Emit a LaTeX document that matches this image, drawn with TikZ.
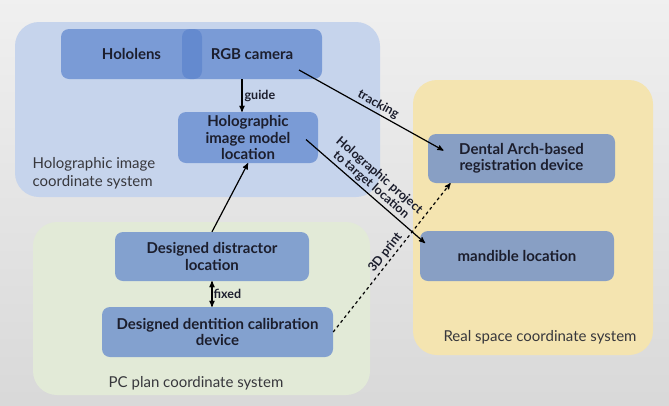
\documentclass[tikz,border=0pt]{standalone}
\usepackage{fontspec}
\setmainfont{Lato}
\usetikzlibrary{arrows, positioning}
\definecolor{holoBack}{HTML}{C6D4EC}
\definecolor{pcBack}{HTML}{E2EAD7}
\definecolor{realBack}{HTML}{F4E4B0}
\definecolor{boxBlue}{RGB}{91,131,205}
\definecolor{ink}{RGB}{28,30,45}
\definecolor{sysInk}{RGB}{55,55,60}

\begin{document}
\begin{tikzpicture}[x=1pt, y=-1pt, >=stealth',
    sysarea/.style={rounded corners=24pt, inner sep=0pt},
    blk/.style={fill=boxBlue, fill opacity=0.7, text opacity=1, text=ink, rounded corners=8pt,
      inner sep=0pt, align=center, font=\fontsize{15}{16.5}\selectfont\bfseries},
    syslabel/.style={text=sysInk, align=left, font=\fontsize{15}{18}\selectfont},
    lnk/.style={->, line width=1.2pt},
    lbl/.style={text=ink, inner sep=2pt, align=center, font=\fontsize{12.5}{12.5}\selectfont\bfseries}]
      \shade[top color=gray!12, bottom color=gray!30] (0, 0) rectangle (669, 405);
      \useasboundingbox (0, 0) rectangle (669, 405);

      % coordinate systems
      \node[sysarea, fill=holoBack, minimum width=365pt, minimum height=175pt] (holoSys) at (197.5, 109.5) {};
      \node[sysarea, fill=pcBack, minimum width=337pt, minimum height=173pt] (pcSys) at (201.5, 308.5) {};
      \node[sysarea, fill=realBack, minimum width=240pt, minimum height=275pt] (realSys) at (533, 217.5) {};
      \node[syslabel, anchor=west] (holoTxt) at (29, 173) {Holographic image\\coordinate system};
      \node[syslabel] (pcTxt) at (196, 383) {PC plan coordinate system};
      \node[syslabel] (realTxt) at (540, 337) {Real space coordinate system};

      % blocks
      \node[blk, minimum width=141pt, minimum height=50pt] (hololens) at (131.5, 54) {Hololens};
      \node[blk, minimum width=140pt, minimum height=50pt] (rgb) at (252, 54) {RGB camera};
      \node[blk, minimum width=140pt, minimum height=51pt] (model) at (248, 137.5) {Holographic\\image model\\location};
      \node[blk, minimum width=194pt, minimum height=49pt] (distractor) at (212, 256.5) {Designed distractor\\location};
      \node[blk, minimum width=231pt, minimum height=50pt] (dentition) at (217.5, 332) {Designed dentition calibration\\device};
      \node[blk, minimum width=187pt, minimum height=49pt] (dental) at (521.5, 158.5) {Dental Arch-based\\registration device};
      \node[blk, minimum width=194pt, minimum height=50pt] (mandible) at (517, 256) {mandible location};

      % links
      \draw[lnk] ([xshift=-10pt]rgb.south) to node[lbl, right] {guide} ([xshift=-6pt]model.north);
      \draw[lnk] ([xshift=47pt, yshift=-16pt]rgb.center) to node[lbl, sloped, above, pos=0.52] {tracking} ([xshift=-78pt, yshift=8pt]dental.center);
      \draw[lnk] ([xshift=58pt, yshift=-2pt]model.center) to node[lbl, sloped, above, pos=0.5] {Holographic project\\to target location} ([xshift=-92pt, yshift=13pt]mandible.center);
      \draw[lnk] (distractor.north) to (model.south);
      \draw[<->, line width=1.2pt] (distractor.south) to node[lbl, right, inner sep=1pt] {fixed} (distractor.south |- dentition.north);
      \draw[lnk, dashed] (dentition.east) to node[lbl, sloped, above, pos=0.5] {3D print} ([xshift=-71pt]dental.south);
    \end{tikzpicture}
\end{document}
